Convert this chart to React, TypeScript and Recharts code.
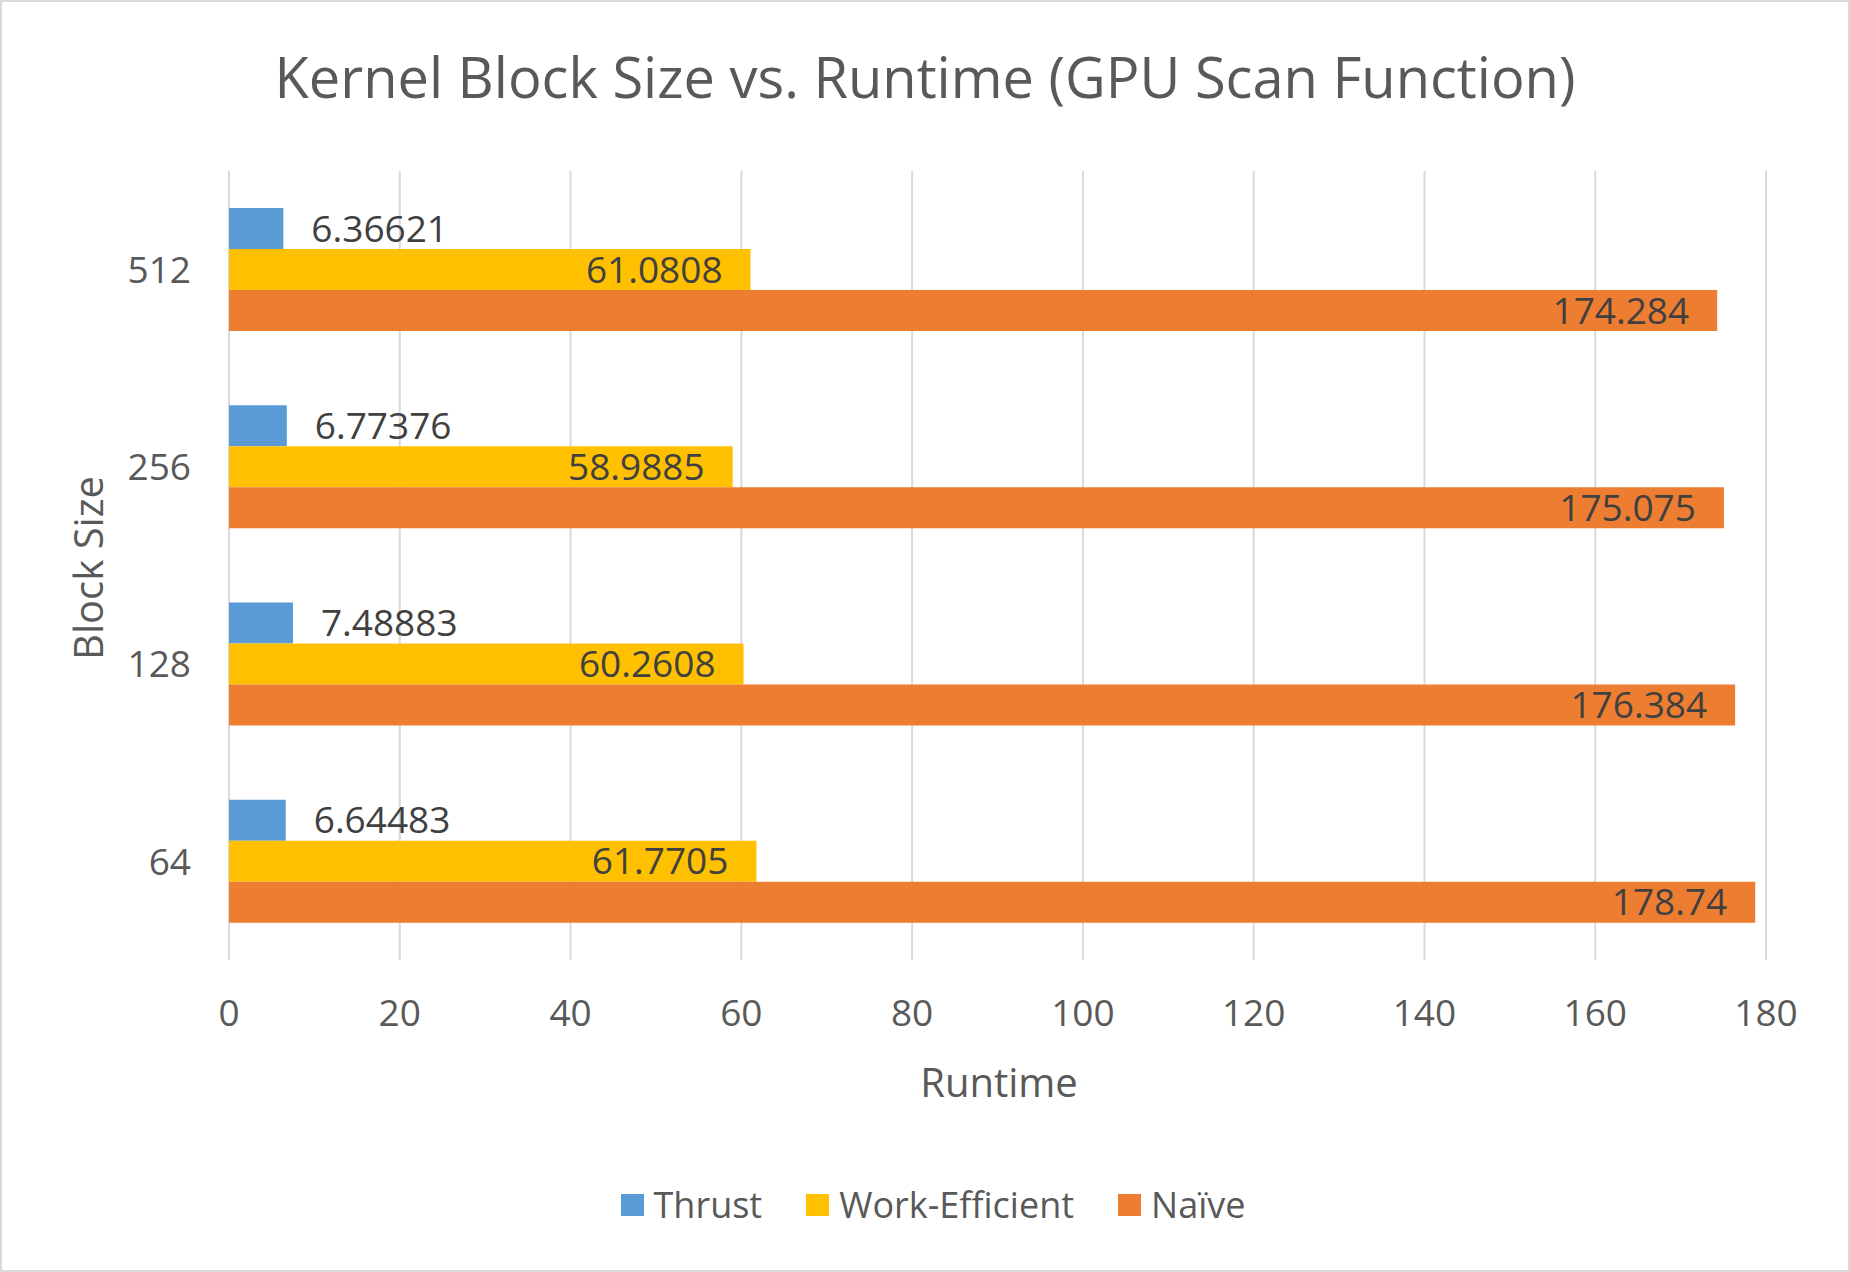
import React from "react";
import { BarChart, Bar, XAxis, YAxis, CartesianGrid, LabelList } from "recharts";

const blockSizes = ["512", "256", "128", "64"];
const thrust = [6.36621, 6.77376, 7.48883, 6.64483];
const workEfficient = [61.0808, 58.9885, 60.2608, 61.7705];
const naive = [174.284, 175.075, 176.384, 178.74];
const runtimeTicks = [0, 20, 40, 60, 80, 100, 120, 140, 160, 180];

const seriesInfo = [
  { key: "thrust", name: "Thrust", color: "#5B9BD5" },
  { key: "workEfficient", name: "Work-Efficient", color: "#FFC000" },
  { key: "naive", name: "Naïve", color: "#ED7D31" },
];

const data = blockSizes.map((size, i) => ({
  size,
  thrust: thrust[i],
  workEfficient: workEfficient[i],
  naive: naive[i],
}));

const FONT = "'Open Sans', 'Noto Sans', sans-serif";
const AXIS_TEXT = "#595959";
const LABEL_TEXT = "#404040";
const FS = 37;

const App: React.FC = () => {
  return (
    <div
      style={{
        position: "absolute",
        left: 0,
        top: 0,
        width: 1850,
        height: 1272,
        boxSizing: "border-box",
        border: "2px solid #D9D9D9",
        background: "#fff",
        fontFamily: FONT,
        overflow: "hidden",
      }}
    >
      {/* title */}
      <div
        style={{
          position: "absolute",
          left: 0,
          width: 1846,
          top: 42,
          textAlign: "center",
          fontSize: 56,
          lineHeight: "64px",
          color: AXIS_TEXT,
        }}
      >
        Kernel Block Size vs. Runtime (GPU Scan Function)
      </div>

      <div style={{ position: "absolute", left: -2, top: -2 }}>
        <BarChart
          width={1850}
          height={1272}
          data={data}
          layout="vertical"
          margin={{ top: 171, right: 84, bottom: 212, left: 0 }}
          barGap={0}
          barSize={41}
        >
          <CartesianGrid horizontal={false} stroke="#D9D9D9" strokeWidth={2} />
          <XAxis
            type="number"
            domain={[0, 180]}
            ticks={runtimeTicks}
            interval={0}
            axisLine={false}
            tickLine={false}
            tickSize={0}
            tickMargin={40}
            height={100}
            tick={{ fontSize: FS, fill: AXIS_TEXT, fontFamily: FONT }}
          />
          <YAxis
            type="category"
            dataKey="size"
            width={229}
            axisLine={false}
            tickLine={false}
            tickSize={0}
            tickMargin={38}
            tick={{ fontSize: FS, fill: AXIS_TEXT, fontFamily: FONT }}
          />
          <Bar dataKey="thrust" name="Thrust" fill="#5B9BD5" isAnimationActive={false}>
            <LabelList dataKey="thrust" position="right" offset={28} fill={LABEL_TEXT} fontSize={FS} fontFamily={FONT} />
          </Bar>
          <Bar dataKey="workEfficient" name="Work-Efficient" fill="#FFC000" isAnimationActive={false}>
            <LabelList dataKey="workEfficient" position="insideRight" offset={28} fill={LABEL_TEXT} fontSize={FS} fontFamily={FONT} />
          </Bar>
          <Bar dataKey="naive" name="Naïve" fill="#ED7D31" isAnimationActive={false}>
            <LabelList dataKey="naive" position="insideRight" offset={28} fill={LABEL_TEXT} fontSize={FS} fontFamily={FONT} />
          </Bar>
        </BarChart>
      </div>

      {/* axis titles */}
      <div
        style={{
          position: "absolute",
          left: 997 - 200,
          width: 400,
          top: 1055,
          textAlign: "center",
          fontSize: 40,
          lineHeight: "50px",
          color: AXIS_TEXT,
        }}
      >
        Runtime
      </div>
      <div
        style={{
          position: "absolute",
          left: 86 - 200,
          width: 400,
          top: 566 - 25,
          textAlign: "center",
          fontSize: 40,
          lineHeight: "50px",
          color: AXIS_TEXT,
          transform: "rotate(-90deg)",
        }}
      >
        Block Size
      </div>

      {/* legend */}
      <div
        style={{
          position: "absolute",
          left: 8,
          width: 1846,
          top: 1179,
          display: "flex",
          justifyContent: "center",
          alignItems: "center",
          gap: 44,
          fontSize: 36,
          lineHeight: "48px",
          color: AXIS_TEXT,
        }}
      >
        {seriesInfo.map((s) => (
          <div key={s.key} style={{ display: "flex", alignItems: "center", gap: 10 }}>
            <span style={{ display: "inline-block", width: 23, height: 22, background: s.color }} />
            <span>{s.name}</span>
          </div>
        ))}
      </div>
    </div>
  );
};

export default App;
